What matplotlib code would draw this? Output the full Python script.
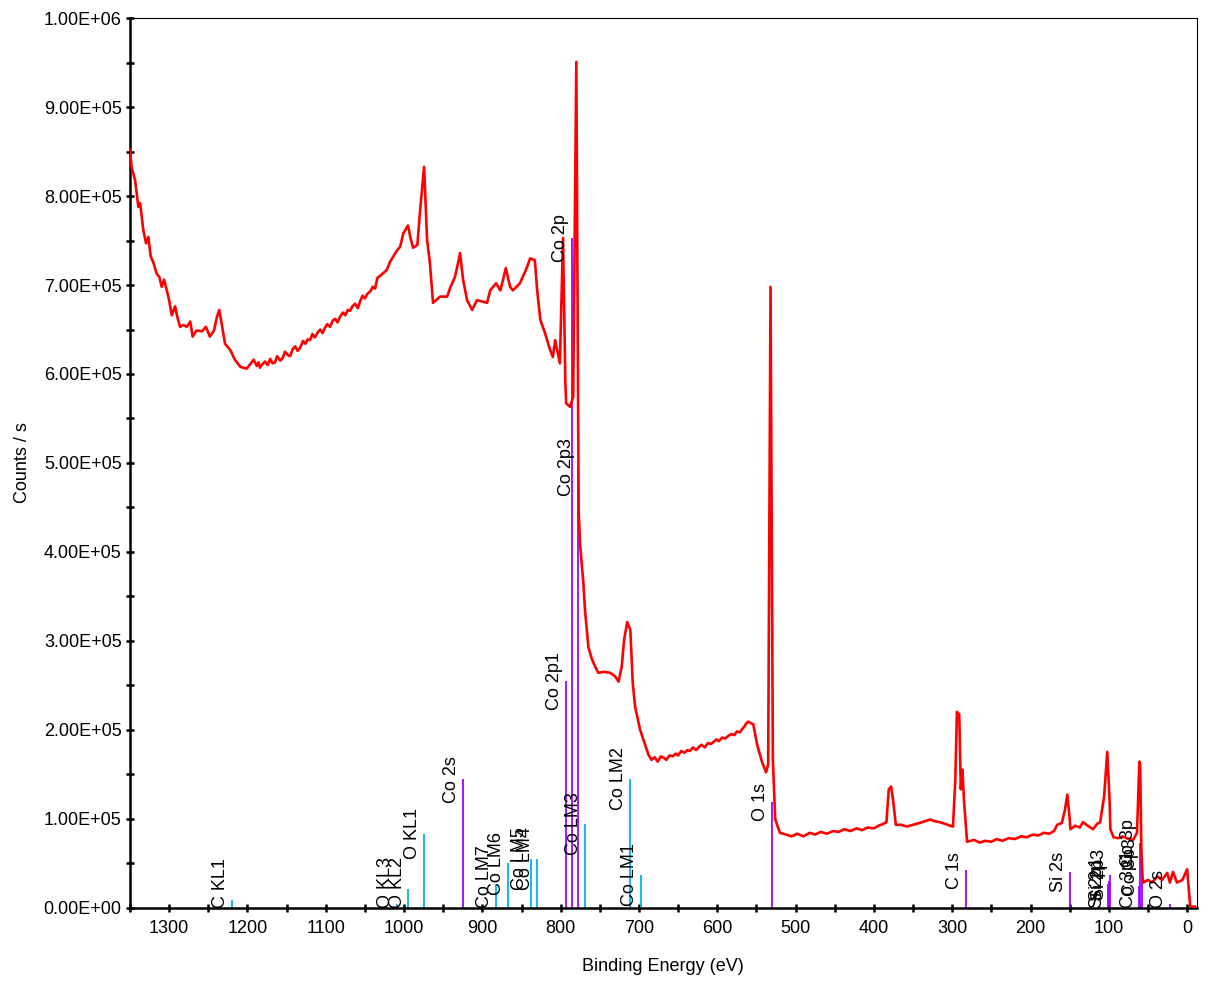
import matplotlib
matplotlib.use("Agg")
import matplotlib.pyplot as plt
from matplotlib.ticker import MultipleLocator, FuncFormatter
from matplotlib.transforms import ScaledTranslation

plt.rcParams['font.family'] = ['Liberation Sans', 'DejaVu Sans']
plt.rcParams['font.size'] = 13

# survey spectrum: binding energy (eV) and counts/s in thousands
be = [1350, 1348, 1343.5, 1339.3, 1337, 1335, 1333, 1329.5, 1326.5, 1323.5,
      1320, 1316, 1312.5, 1309.5, 1306.5, 1303, 1300, 1296.6, 1292.4, 1289.5,
      1286, 1282, 1277.5, 1273, 1270, 1265, 1258, 1253, 1248, 1242.6,
      1239, 1236, 1233, 1228.6, 1222, 1216, 1209, 1201,
      1192, 1188, 1186, 1184, 1181, 1177.5, 1174, 1171, 1168, 1165,
      1162, 1158, 1155, 1152, 1148, 1145.6, 1142, 1139, 1136, 1133,
      1129, 1126, 1123, 1120, 1117, 1114, 1110, 1107, 1104, 1101,
      1098, 1094.5, 1091, 1088, 1085, 1082, 1078, 1075, 1072, 1069,
      1066, 1062.5, 1059, 1056, 1053, 1050, 1047, 1043, 1040, 1037,
      1034, 1031, 1022, 1018, 1009, 1005, 1001,
      995, 992, 988.5, 983, 979.5, 974.4, 970.6, 967, 963, 954,
      945, 941, 935, 931, 928.5, 924.6, 919.5, 913, 907, 894,
      890, 882.5, 877, 870, 864.6, 861, 852, 843, 839, 833,
      830, 826, 820, 813.5, 810, 807, 801, 797, 794, 793,
      788, 784, 780, 777, 775, 771, 769, 764.6, 760, 756,
      752, 745, 737, 730.5, 726, 722, 719, 715, 711, 708,
      705, 698.6, 688, 684, 680, 676, 672, 668, 665, 661,
      657, 653, 650, 646, 642, 638, 635, 631, 627, 623,
      620, 616, 612, 608, 605, 601, 598, 594, 590, 586,
      582, 578, 575, 571, 568, 565, 563,
      560.6, 554, 549, 543, 537.7, 535, 532, 529, 526, 520,
      512, 505, 498, 490, 482, 475, 468, 460, 452, 445,
      438, 430, 422, 415, 408, 400, 394, 388, 384, 381,
      378, 375.5, 372, 365, 358, 350, 342, 335, 328, 322,
      316, 309, 303, 299, 296, 294, 291, 289, 287, 285,
      281, 272, 265, 258, 250, 243, 236, 228, 220, 212,
      205, 197, 190, 183, 176, 170, 166, 160, 156, 153,
      150, 149, 143, 137, 133, 127, 120, 115, 111, 106,
      102, 99, 98, 94, 88, 82, 75, 69, 64, 61,
      60, 58.5, 57, 56, 50, 45, 38, 32, 25.5, 22,
      18, 13, 6, 0, -4, -10]
counts = [852, 833, 818, 788, 792, 777, 762, 747, 754, 732,
          725, 713, 709, 698, 706, 694, 683, 666, 676, 664,
          653, 655, 653, 659, 642, 649, 648, 653, 642, 649,
          664, 672, 657, 634, 627, 616, 608, 606,
          616, 609, 613, 607, 611, 614, 610, 617, 612, 613,
          620, 615, 618, 625, 621, 620, 628, 631, 626, 629,
          637, 634, 639, 638, 645, 641, 647, 650, 646, 652,
          656, 653, 660, 662, 658, 664, 669, 666, 672, 671,
          676, 679, 674, 682, 688, 685, 690, 693, 698, 696,
          708, 710, 717, 726, 739, 743, 758,
          767, 754, 742, 745, 784, 833, 751, 725, 680, 687,
          687, 697, 709, 725, 736, 706, 683, 672, 683, 680,
          694, 702, 694, 719, 698, 694, 702, 720, 730, 728,
          694, 661, 646, 627, 619, 638, 612, 753, 590, 567,
          563, 574, 951, 444, 406, 365, 335, 293, 279, 271,
          264, 265, 264, 260, 254, 271, 301, 321, 312, 253,
          226, 200, 172, 166, 169, 164, 170, 168, 166, 171,
          170, 173, 171, 176, 174, 177, 176, 180, 177, 181,
          183, 180, 185, 184, 186, 189, 187, 191, 190, 193,
          195, 194, 198, 197, 201, 204, 207,
          209, 206, 183, 164, 152, 161, 698, 166, 99, 84,
          82, 80, 83, 80, 84, 82, 85, 83, 86, 85,
          88, 86, 89, 87, 90, 89, 92, 94, 96, 133,
          136, 121, 93, 93, 91, 93, 95, 97, 99, 97,
          96, 94, 92, 91, 144, 220, 217, 133, 155, 121,
          74, 76, 73, 75, 74, 77, 75, 78, 77, 80,
          79, 82, 81, 84, 83, 86, 93, 95, 110, 127,
          100, 88, 92, 90, 96, 92, 88, 94, 96, 125,
          175, 120, 88, 79, 78, 80, 77, 76, 84, 164,
          161, 68, 35, 28, 31, 28, 35, 31, 39, 28,
          40, 28, 31, 43, 1, 1]

# core-level markers (purple)
core_names = ["Co 2s", "Co 2p1", "Co 2p", "Co 2p3", "O 1s", "C 1s", "Si 2s",
              "Si 2p1", "Si 2p", "Si 2p3", "Co 3p1", "Co 3p", "Co 3p3", "O 2s"]
core_be = [925, 793.5, 786, 778.5, 530.5, 282.5, 149.5,
           100.5, 99.5, 98, 61, 60, 58, 22]
core_h = [144, 255, 753, 495, 119, 42, 40, 26, 30, 37, 24, 73, 46, 4]

# Auger markers (cyan)
auger_names = ["C KL1", "O KL3", "O KL2", "O KL1", "Co LM7", "Co LM6",
               "Co LM5", "Co LM4", "Co LM3", "Co LM2", "Co LM1"]
auger_be = [1219.5, 1009, 994.5, 974.5, 882.5, 867.5, 838, 830.5, 769, 711.5, 697.5]
auger_h = [9, 4.5, 21, 83, 26, 50, 55, 55, 94, 145, 37]

fig = plt.figure(figsize=(12.08, 9.83), dpi=100)
ax = fig.add_axes([0.1076, 0.0768, 0.8829, 0.9046])

ax.plot(be, [c * 1e3 for c in counts], color='red', lw=1.9, zorder=3)

shift = ScaledTranslation(-2 / 72, 0, fig.dpi_scale_trans)
labels = []
for names, xs, hs, col in [(core_names, core_be, core_h, '#a400ff'),
                           (auger_names, auger_be, auger_h, '#00b4f0')]:
    for n, x, h in zip(names, xs, hs):
        ax.vlines(x, 0, h * 1e3, color=col, lw=1.3, zorder=2)
        t = ax.text(x, h * 1e3, n, rotation=90, ha='right', va='center',
                    transform=ax.transData + shift, fontsize=13)
        labels.append((t, x, h * 1e3))

ax.set_xlim(1350, -12)
ax.set_ylim(0, 1e6)
ax.xaxis.set_major_locator(MultipleLocator(100))
ax.xaxis.set_minor_locator(MultipleLocator(50))
ax.yaxis.set_major_locator(MultipleLocator(1e5))
ax.yaxis.set_minor_locator(MultipleLocator(5e4))
ax.yaxis.set_major_formatter(FuncFormatter(lambda v, p: f"{v:.2E}"))
ax.tick_params(which='both', direction='inout', length=6, width=1.8, labelsize=13)
ax.tick_params(axis='x', which='major', pad=6)
ax.tick_params(axis='y', which='major', pad=3)

for s in ['left', 'bottom']:
    ax.spines[s].set_linewidth(1.8)
for s in ['top', 'right']:
    ax.spines[s].set_linewidth(0.8)

ax.set_xlabel('Binding Energy (eV)', fontsize=13, va='center')
ax.set_ylabel('Counts / s', fontsize=13, va='center')
ax.xaxis.set_label_coords(0.5, -0.066)
ax.yaxis.set_label_coords(-0.101, 0.5)

# keep short markers' labels above the axis
fig.canvas.draw()
y0 = ax.transData.transform((0, 0))[1]
for t, x, h in labels:
    bb = t.get_window_extent()
    half = (bb.y1 - bb.y0) / 2
    hy = ax.transData.transform((0, h))[1]
    if hy - half < y0:
        t.set_y(ax.transData.inverted().transform((0, y0 + half))[1])

fig.savefig('out.png', dpi=100)
